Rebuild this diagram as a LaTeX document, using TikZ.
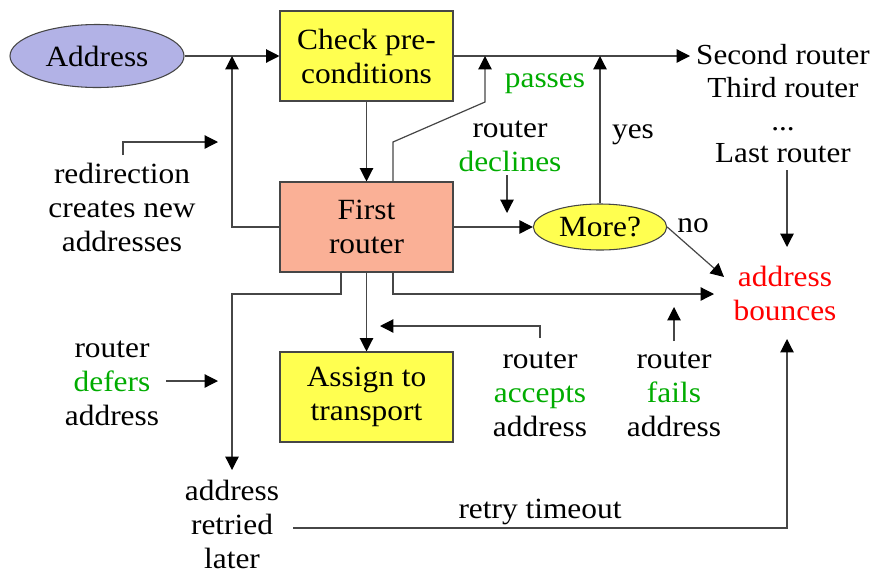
\documentclass[tikz,border=0pt]{standalone}
\usepackage{fontspec}
\setmainfont[FakeStretch=1.07]{Liberation Serif}
\usetikzlibrary{arrows.meta,shapes.geometric}
\definecolor{addrblue}{RGB}{178,178,230}
\definecolor{yel}{RGB}{255,255,80}
\definecolor{salmon}{RGB}{250,176,150}
\definecolor{grn}{RGB}{0,172,0}
\definecolor{rd}{RGB}{255,0,0}
\definecolor{ln}{RGB}{70,70,70}
\begin{document}
\begin{tikzpicture}[x=0.75pt,y=-0.75pt,
  every node/.style={font=\fontsize{22}{25.5}\selectfont},
  box/.style={draw=ln,line width=0.8pt,minimum width=129.75pt,minimum height=67.5pt,align=center,inner sep=0pt},
  ell/.style={ellipse,draw=ln,line width=0.8pt,inner sep=0pt,align=center},
  lbl/.style={align=center,inner sep=0pt},
  arr/.style={draw=ln,line width=0.9pt,-{Triangle[length=10pt,width=10pt,color=black]}}]
\useasboundingbox (0,0) rectangle (880,572);
% main nodes
\node[ell,fill=addrblue,minimum width=130.5pt,minimum height=47.25pt] (addr) at (97,56) {Address};
\node[box,fill=yel] (check) at (366.5,56) {Check pre-\\conditions};
\node[box,fill=salmon] (first) at (366.5,227) {First\\router};
\node[box,fill=yel] (assign) at (366.5,397) {Assign to\\transport};
\node[ell,fill=yel,minimum width=100pt,minimum height=34.5pt] (more) at (600,227) {More?};
% labels
\node[lbl] (redir) at (122,207) {redirection\\creates new\\addresses};
\node[lbl,font=\fontsize{21.8}{24.5}\selectfont] (routers) at (783,104) {Second router\\Third router\\...\\Last router};
\node[lbl,text=grn,anchor=base] (passes) at (545,87) {passes};
\node[lbl] (declines) at (510,146) {router\\\textcolor{grn}{declines}};
\node[lbl,anchor=base] (yes) at (633,138) {yes};
\node[lbl,anchor=base] (no) at (693,232) {no};
\node[lbl,text=rd] (bounce) at (785,293) {address\\bounces};
\node[lbl] (defers) at (112,383) {router\\\textcolor{grn}{defers}\\address};
\node[lbl] (accepts) at (540,394) {router\\\textcolor{grn}{accepts}\\address};
\node[lbl] (fails) at (674,394) {router\\\textcolor{grn}{fails}\\address};
\node[lbl] (retried) at (232,524) {address\\retried\\later};
\node[lbl,anchor=base] (timeout) at (540,518) {retry timeout};
% coordinates
\coordinate (j1) at (232,56);
\coordinate (r0) at (123,155);
\coordinate (r1) at (218,142);
\coordinate (c2) at (690,56);
\coordinate (p1) at (393,142);
\coordinate (p2) at (485,102);
\coordinate (p3) at (485,56);
\coordinate (m1) at (600,56);
\coordinate (b1) at (724,277);
\coordinate (lr0) at (787,170);
\coordinate (lr1) at (787,247);
\coordinate (dc0) at (507,175);
\coordinate (dc1) at (507,213);
\coordinate (d1) at (341,294);
\coordinate (d2) at (232,470);
\coordinate (f1) at (393,294);
\coordinate (f2) at (714,294);
\coordinate (a0) at (540,338);
\coordinate (a1) at (540,326);
\coordinate (a2) at (380,326);
\coordinate (fa0) at (674,341);
\coordinate (fa1) at (674,307);
\coordinate (df0) at (166,381);
\coordinate (df1) at (218,381);
\coordinate (rt0) at (293,528);
\coordinate (rt2) at (787,339);
% connectors
\draw[arr] (addr.east) -- (check.west);
\draw[arr] (first.west) -| (j1);
\draw[arr] (r0) |- (r1);
\draw[arr] (check.south) -- (first.north);
\draw[arr] (check.east) -- (c2);
\draw[arr] (first.north -| p1) -- (p1) -- (p2) -- (p3);
\draw[arr] (first.east) -- (more.west);
\draw[arr] (more.north) -- (m1);
\draw[arr] (more.east) -- (b1);
\draw[arr] (lr0) -- (lr1);
\draw[arr] (dc0) -- (dc1);
\draw[arr] (first.south -| d1) -- (d1) -| (d2);
\draw[arr] (first.south) -- (assign.north);
\draw[arr] (first.south -| f1) -- (f1) -- (f2);
\draw[arr] (a0) -- (a1) -- (a2);
\draw[arr] (fa0) -- (fa1);
\draw[arr] (df0) -- (df1);
\draw[arr] (rt0) -| (rt2);
\end{tikzpicture}
\end{document}
